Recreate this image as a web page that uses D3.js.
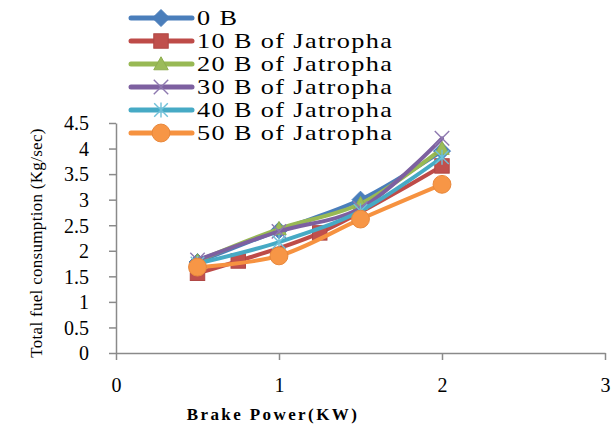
<!DOCTYPE html>
<html>
<head>
<meta charset="utf-8">
<script src="https://cdn.jsdelivr.net/npm/d3@7"></script>
<style>
  body { margin: 0; background: #fff; }
  svg text { font-family: "Liberation Serif", "Times New Roman", serif; fill: #000; }
</style>
</head>
<body>
<div id="chart"></div>
<script>
const seriesNames = ["0 B", "10 B of Jatropha", "20 B of Jatropha", "30 B of Jatropha", "40 B of Jatropha", "50 B of Jatropha"];
const power = [0.5, 1, 1.5, 2];
const power10 = [0.5, 0.75, 1.25, 2];
const fuel0 = [1.78, 2.4, 3.0, 3.95];
const fuel10 = [1.56, 1.8, 2.35, 3.66];
const fuel20 = [1.8, 2.43, 2.92, 4.0];
const fuel30 = [1.82, 2.38, 2.83, 4.2];
const fuel40 = [1.75, 2.17, 2.78, 3.83];
const fuel50 = [1.68, 1.9, 2.62, 3.3];
const xTicks = [0, 1, 2, 3];
const yTicks = [0, 0.5, 1, 1.5, 2, 2.5, 3, 3.5, 4, 4.5];

const lineColors = ["#4A7EBB", "#BE4B48", "#98B954", "#7D60A0", "#46AAC5", "#F69240"];
const markerKinds = ["diamond", "square", "triangle", "cross", "star", "circle"];
const xs = [power, power10, power, power, power, power];
const ys = [fuel0, fuel10, fuel20, fuel30, fuel40, fuel50];

const series = seriesNames.map((name, i) => ({
    name,
    color: lineColors[i],
    kind: markerKinds[i],
    points: xs[i].map((x, j) => ({ x, y: ys[i][j] }))
}));

const width = 616, height = 430;
const svg = d3.select("#chart").append("svg")
    .attr("width", width)
    .attr("height", height);

const x = d3.scaleLinear().domain([0, 3]).range([116, 605]);
const y = d3.scaleLinear().domain([0, 4.5]).range([353, 123]);

// axes
const axisColor = "#8a8a8a";
const xAxis = svg.append("g")
    .attr("transform", `translate(0,${y(0)})`)
    .call(d3.axisBottom(x).tickValues(xTicks).tickSize(7).tickSizeOuter(0).tickFormat(d3.format("d")));
const yAxis = svg.append("g")
    .attr("transform", `translate(${x(0)},0)`)
    .call(d3.axisLeft(y).tickValues(yTicks).tickSize(7).tickSizeOuter(0).tickFormat(d => d));

[xAxis, yAxis].forEach(a => {
    a.attr("font-family", null);
    a.select(".domain").attr("stroke", axisColor).attr("stroke-width", 1.5);
    a.selectAll(".tick line").attr("stroke", axisColor).attr("stroke-width", 1.5);
    a.selectAll(".tick text")
        .style("font-family", "'Liberation Serif', 'Times New Roman', serif")
        .style("font-size", "20px")
        .attr("fill", "#000");
});
xAxis.selectAll(".tick text").attr("y", 25);
yAxis.selectAll(".tick text").attr("x", -27).attr("dy", "0.34em");

// axis titles
svg.append("text")
    .attr("x", 273)
    .attr("y", 420)
    .attr("text-anchor", "middle")
    .style("font-size", "17px")
    .style("font-weight", "bold")
    .style("letter-spacing", "2.4px")
    .text("Brake Power(KW)");

svg.append("text")
    .attr("transform", `translate(42,243) rotate(-90)`)
    .attr("text-anchor", "middle")
    .style("font-size", "17px")
    .style("letter-spacing", "0.3px")
    .text("Total fuel consumption (Kg/sec)");

// markers
function drawMarker(sel, kind, color, s) {
    if (kind === "diamond") {
        sel.append("path").attr("d", `M0,${-s}L${s},0L0,${s}L${-s},0Z`)
            .attr("fill", color).attr("stroke", color);
    } else if (kind === "square") {
        const h = s * 0.85;
        sel.append("rect").attr("x", -h).attr("y", -h).attr("width", 2 * h).attr("height", 2 * h)
            .attr("fill", "#C0504D").attr("stroke", "#B04845");
    } else if (kind === "triangle") {
        const h = s * 0.85;
        sel.append("path").attr("d", `M0,${-h}L${h},${h * 0.8}L${-h},${h * 0.8}Z`)
            .attr("fill", "#9BBB59").attr("stroke", "#8EAE4E");
    } else if (kind === "cross") {
        const h = s * 0.85;
        sel.append("path").attr("d", `M${-h},${-h}L${h},${h}M${h},${-h}L${-h},${h}`)
            .attr("stroke", "#8E79B0").attr("stroke-width", 1.4).attr("fill", "none");
    } else if (kind === "star") {
        const h = s * 0.8;
        sel.append("path").attr("d", `M${-h},${-h}L${h},${h}M${h},${-h}L${-h},${h}M0,${-h * 1.1}L0,${h * 1.1}`)
            .attr("stroke", "#6FC0D8").attr("stroke-width", 1.4).attr("fill", "none");
    } else if (kind === "circle") {
        sel.append("circle").attr("r", s * 1.05)
            .attr("fill", "#F79646").attr("stroke", "#E8883C");
    }
}

const line = d3.line()
    .x(d => x(d.x))
    .y(d => y(d.y))
    .curve(d3.curveCatmullRom.alpha(0.5));

series.forEach(s => {
    const g = svg.append("g");
    g.append("path")
        .datum(s.points)
        .attr("d", line)
        .attr("fill", "none")
        .attr("stroke", s.color)
        .attr("stroke-width", 4)
        .attr("stroke-linejoin", "round")
        .attr("stroke-linecap", "round");
    g.selectAll("g.mk")
        .data(s.points)
        .join("g")
        .attr("class", "mk")
        .attr("transform", d => `translate(${x(d.x)},${y(d.y)})`)
        .each(function() { drawMarker(d3.select(this), s.kind, s.color, 8.5); });
});

// legend
const legend = svg.append("g");
const rowY = d3.scaleLinear().domain([0, 5]).range([18, 133]);
series.forEach((s, i) => {
    const row = legend.append("g").attr("transform", `translate(0,${rowY(i)})`);
    row.append("line")
        .attr("x1", 131).attr("x2", 192)
        .attr("stroke", s.color)
        .attr("stroke-width", 5)
        .attr("stroke-linecap", "round");
    const m = row.append("g").attr("transform", "translate(161,0)");
    drawMarker(m, s.kind, s.color, 8.5);
    row.append("text")
        .attr("transform", "translate(197,7) scale(1.25,1)")
        .style("font-size", "21px")
        .style("letter-spacing", "1.1px")
        .text(s.name);
});
</script>
</body>
</html>
